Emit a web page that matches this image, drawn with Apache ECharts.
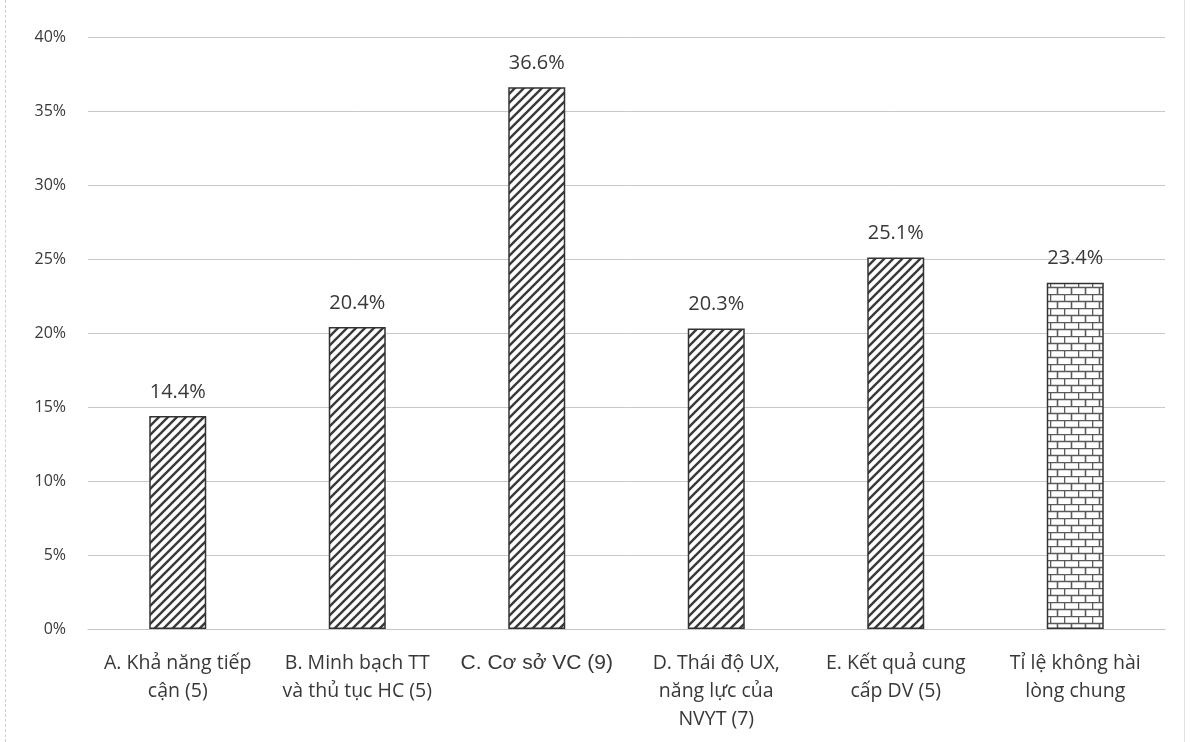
<!DOCTYPE html>
<html>
<head>
<meta charset="utf-8">
<script src="https://cdn.jsdelivr.net/npm/echarts@6/dist/echarts.min.js"></script>
<style>
  html, body { margin: 0; padding: 0; background: #ffffff; }
  #wrap { position: relative; width: 1191px; height: 742px; }
  #chart { width: 1191px; height: 742px; }
  #frame { position: absolute; left: 5px; top: 0; width: 1180px; height: 742px; box-sizing: border-box;
           border-left: 1px dashed #cfcfcf; border-right: 1px solid #e2e2e2; pointer-events: none; }
</style>
</head>
<body>
<div id="wrap">
  <div id="chart"></div>
  <div id="frame"></div>
</div>
<script>
// Survey dimensions (number of items in brackets) and share of dissatisfied responses
const categories = [
  'A. Khả năng tiếp\ncận (5)',
  'B. Minh bạch TT\nvà thủ tục HC (5)',
  'C. Cơ sở VC (9)',
  'D. Thái độ UX,\nnăng lực của\nNVYT (7)',
  'E. Kết quả cung\ncấp DV (5)',
  'Tỉ lệ không hài\nlòng chung'
];
const values = [14.4, 20.4, 36.6, 20.3, 25.1, 23.4];
const yTicks = [0, 5, 10, 15, 20, 25, 30, 35, 40];

// Diagonal hatch fill for the dimension bars
function hatchPattern() {
  const s = 9;
  const c = document.createElement('canvas');
  c.width = s; c.height = s;
  const g = c.getContext('2d');
  g.fillStyle = '#ffffff';
  g.fillRect(0, 0, s, s);
  g.strokeStyle = '#3a3a3a';
  g.lineWidth = 2.4;
  g.beginPath();
  g.moveTo(-2, 2); g.lineTo(2, -2);
  g.moveTo(0, s); g.lineTo(s, 0);
  g.moveTo(s - 2, s + 2); g.lineTo(s + 2, s - 2);
  g.stroke();
  return c;
}

// Brick fill for the overall rate bar
function brickPattern() {
  const w = 14, h = 14;
  const c = document.createElement('canvas');
  c.width = w; c.height = h;
  const g = c.getContext('2d');
  g.fillStyle = '#ffffff';
  g.fillRect(0, 0, w, h);
  g.strokeStyle = '#5a5a5a';
  g.lineWidth = 1.6;
  g.beginPath();
  g.moveTo(0, 0.5); g.lineTo(w, 0.5);
  g.moveTo(0, 7.5); g.lineTo(w, 7.5);
  g.moveTo(0.5, 0); g.lineTo(0.5, 7);
  g.moveTo(7.5, 7); g.lineTo(7.5, 14);
  g.stroke();
  return c;
}

const hatch = { image: hatchPattern(), repeat: 'repeat' };
const brick = { image: brickPattern(), repeat: 'repeat' };

const font = '"Open Sans", Lato, "Noto Sans", sans-serif';

const chart = echarts.init(document.getElementById('chart'), null, { renderer: 'canvas' });
chart.setOption({
  backgroundColor: '#ffffff',
  animation: false,
  grid: { left: 88, right: 26, top: 37, bottom: 113, containLabel: false },
  xAxis: {
    type: 'category',
    data: categories,
    axisLine: { show: true, lineStyle: { color: '#c4c4c4', width: 1 } },
    axisTick: { show: false },
    axisLabel: {
      interval: 0,
      margin: 20,
      color: '#383838',
      fontFamily: font,
      fontSize: 19.5,
      lineHeight: 28,
      formatter: function (v) {
        return v.indexOf('C. Cơ sở') === 0 ? '{c|' + v + '}' : v;
      },
      rich: {
        c: { fontFamily: '"Liberation Sans", Arial, sans-serif', fontSize: 21, color: '#383838', lineHeight: 28 }
      }
    }
  },
  yAxis: {
    type: 'value',
    min: yTicks[0],
    max: yTicks[yTicks.length - 1],
    interval: 5,
    axisLine: { show: false },
    axisTick: { show: false },
    splitLine: { lineStyle: { color: '#c8c8c8', width: 1 } },
    axisLabel: {
      margin: 22,
      color: '#383838',
      fontFamily: font,
      fontSize: 16,
      formatter: '{value}%'
    }
  },
  series: [{
    type: 'bar',
    barWidth: 57,
    data: values.map(function (v, i) {
      return {
        value: v,
        itemStyle: {
          color: i === values.length - 1 ? brick : hatch,
          borderColor: '#333333',
          borderWidth: 1.5
        }
      };
    }),
    label: {
      show: true,
      position: 'top',
      distance: 14,
      color: '#383838',
      fontFamily: font,
      fontSize: 20,
      formatter: function (p) { return p.value.toFixed(1) + '%'; }
    }
  }]
});
</script>
</body>
</html>
